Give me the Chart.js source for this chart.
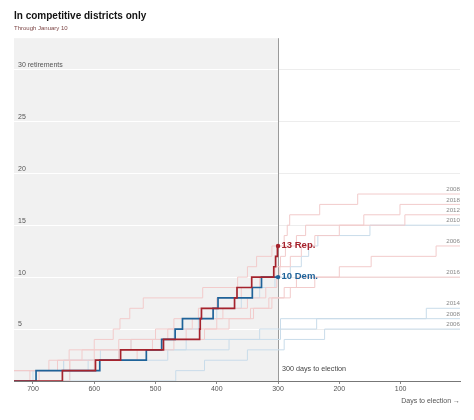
<!DOCTYPE html>
<html><head><meta charset="utf-8">
<script src="https://cdn.jsdelivr.net/npm/chart.js@4.4.0/dist/chart.umd.min.js"></script>
<style>html,body{margin:0;padding:0;background:#fff}#wrap{width:474px;height:420px}</style>
</head><body><div id="wrap"><canvas id="c" width="474" height="420"></canvas></div>
<script>
// ---- tick values ----
const xTicks = [700, 600, 500, 400, 300, 200, 100];
const yTicks = [5, 10, 15, 20, 25, 30];

// ---- current cycle (days to election, cumulative retirements) ----
const repDays   = [731, 652, 598, 557, 487, 428, 427, 425, 371, 367, 343, 307, 304, 301, 300];
const repCounts = [0, 1, 2, 3, 4, 5, 6, 7, 8, 9, 10, 11, 12, 13, 13];
const demDays   = [731, 695, 591, 515, 490, 468, 456, 406, 398, 342, 327, 300];
const demCounts = [0, 1, 2, 3, 4, 5, 6, 7, 8, 9, 10, 10];

// ---- past cycles ----
const r2008Days   = [731, 705, 674, 641, 600, 569, 558, 542, 520, 423, 366, 350, 335, 310, 290, 285, 281, 232, 170, 3];
const r2008Counts = [0, 1, 2, 3, 4, 5, 6, 7, 8, 9, 10, 11, 12, 13, 14, 15, 16, 17, 18, 18];
const r2018Days   = [731, 660, 620, 560, 500, 470, 430, 400, 360, 330, 305, 296, 288, 270, 255, 160, 101, 3];
const r2018Counts = [1, 2, 3, 4, 5, 6, 7, 8, 9, 10, 11, 12, 13, 14, 15, 16, 17, 17];
const r2012Days   = [731, 690, 640, 600, 540, 480, 440, 390, 350, 320, 302, 297, 280, 262, 240, 200, 93, 3];
const r2012Counts = [0, 1, 2, 3, 4, 5, 6, 7, 8, 9, 10, 11, 12, 13, 14, 15, 16, 16];
const d2010Days   = [731, 700, 650, 590, 540, 470, 430, 400, 360, 330, 305, 280, 262, 250, 235, 150, 3];
const d2010Counts = [0, 1, 2, 3, 4, 5, 6, 7, 8, 9, 10, 11, 12, 13, 14, 15, 15];
const r2006Days   = [731, 640, 560, 505, 450, 400, 345, 310, 280, 240, 200, 148, 42, 3];
const r2006Counts = [1, 2, 3, 4, 5, 6, 7, 8, 9, 10, 11, 12, 13, 13];
const r2016Days   = [731, 640, 600, 530, 470, 420, 380, 340, 315, 290, 270, 3];
const r2016Counts = [0, 1, 2, 3, 4, 5, 6, 7, 8, 9, 10, 10];
const d2014Days   = [731, 650, 560, 450, 330, 296, 58, 3];
const d2014Counts = [1, 2, 3, 4, 5, 6, 7, 7];
const d2008Days   = [731, 640, 610, 480, 380, 296, 237, 3];
const d2008Counts = [0, 1, 2, 3, 4, 5, 6, 6];
const d2006Days   = [731, 467, 420, 350, 290, 224, 3];
const d2006Counts = [0, 1, 2, 3, 4, 5, 5];

const REP = '#a5232d', DEM = '#1f6399';
const REP_FAINT = '#f2cbcb', DEM_FAINT = '#c9dcea';
const FONT = "'Liberation Sans', Arial, sans-serif";

const pastSeries = [
  {year: '2008', party: 'R', days: r2008Days, counts: r2008Counts},
  {year: '2018', party: 'R', days: r2018Days, counts: r2018Counts},
  {year: '2012', party: 'R', days: r2012Days, counts: r2012Counts},
  {year: '2010', party: 'D', days: d2010Days, counts: d2010Counts},
  {year: '2006', party: 'R', days: r2006Days, counts: r2006Counts},
  {year: '2016', party: 'R', days: r2016Days, counts: r2016Counts},
  {year: '2014', party: 'D', days: d2014Days, counts: d2014Counts},
  {year: '2008', party: 'D', days: d2008Days, counts: d2008Counts},
  {year: '2006', party: 'D', days: d2006Days, counts: d2006Counts}
];

const pts = (days, counts) => days.map((d, i) => ({x: d, y: counts[i]}));
const lastRadius = (n, r) => (ctx) => ctx.dataIndex === n - 1 ? r : 0;

const datasets = [
  {label: 'Rep.', data: pts(repDays, repCounts), borderColor: REP, backgroundColor: REP,
   borderWidth: 1.7, stepped: true, pointRadius: lastRadius(repDays.length, 2.2), pointBorderWidth: 0},
  {label: 'Dem.', data: pts(demDays, demCounts), borderColor: DEM, backgroundColor: DEM,
   borderWidth: 1.7, stepped: true, pointRadius: lastRadius(demDays.length, 2.2), pointBorderWidth: 0}
].concat(pastSeries.map(s => ({
  label: s.year, data: pts(s.days, s.counts),
  borderColor: s.party === 'R' ? REP_FAINT : DEM_FAINT,
  borderWidth: 1, stepped: true, pointRadius: 0
})));

const decor = {
  id: 'decor',
  beforeDraw(chart) {
    const {ctx, chartArea: a, scales: {x, y}} = chart;
    const x300 = x.getPixelForValue(300);
    ctx.save();
    ctx.fillStyle = '#f1f1f1';
    ctx.fillRect(a.left, a.top, x300 - a.left, a.bottom - a.top);
    ctx.lineWidth = 1;
    yTicks.forEach(v => {
      const py = Math.round(y.getPixelForValue(v)) + 0.5;
      ctx.strokeStyle = '#ffffff';
      ctx.beginPath(); ctx.moveTo(a.left, py); ctx.lineTo(x300, py); ctx.stroke();
      ctx.strokeStyle = '#ededed';
      ctx.beginPath(); ctx.moveTo(x300, py); ctx.lineTo(a.right, py); ctx.stroke();
    });
    const vx = Math.round(x300) + 0.5;
    ctx.strokeStyle = '#9a9a9a';
    ctx.beginPath(); ctx.moveTo(vx, a.top); ctx.lineTo(vx, a.bottom); ctx.stroke();
    ctx.restore();
  },
  afterDatasetsDraw(chart) {
    const {ctx, chartArea: a, scales: {x, y}} = chart;
    const x300 = x.getPixelForValue(300);
    ctx.save();
    ctx.textBaseline = 'middle';
    ctx.textAlign = 'right';
    ctx.font = '6.2px ' + FONT;
    ctx.fillStyle = '#888';
    pastSeries.forEach(s => {
      const v = s.counts[s.counts.length - 1];
      ctx.fillText(s.year, a.right, y.getPixelForValue(v) - 4.5);
    });
    ctx.font = '7px ' + FONT;
    ctx.fillStyle = '#555';
    ctx.fillText('Days to election \u2192', a.right, a.bottom + 20.5);
    ctx.textAlign = 'left';
    ctx.font = 'bold 9.5px ' + FONT;
    const rv = repCounts[repCounts.length - 1], dv = demCounts[demCounts.length - 1];
    ctx.fillStyle = REP;
    ctx.fillText(rv + ' Rep.', x300 + 3.5, y.getPixelForValue(rv) - 0.5);
    ctx.fillStyle = DEM;
    ctx.fillText(dv + ' Dem.', x300 + 3.5, y.getPixelForValue(dv) - 0.5);
    ctx.font = '7.2px ' + FONT;
    ctx.fillStyle = '#444';
    ctx.fillText('300 days to election', x300 + 4, a.bottom - 12);
    ctx.restore();
  }
};

Chart.defaults.font.family = FONT;
new Chart(document.getElementById('c'), {
  type: 'line',
  data: {datasets},
  options: {
    responsive: false, animation: false, devicePixelRatio: 1,
    layout: {padding: {left: 14, right: 14, top: 0, bottom: 25.6}},
    plugins: {
      legend: {display: false}, tooltip: {enabled: false},
      title: {display: true, text: 'In competitive districts only', align: 'start', color: '#121212',
              font: {size: 10, weight: 'bold'}, padding: {top: 10, bottom: 0}},
      subtitle: {display: true, text: 'Through January 10', align: 'start', color: '#7d4646',
                 font: {size: 6}, padding: {top: 3, bottom: 6}}
    },
    scales: {
      x: {
        type: 'linear', reverse: true, min: 3, max: 731,
        afterBuildTicks: s => { s.ticks = xTicks.map(v => ({value: v})); },
        grid: {display: true, drawOnChartArea: false, drawTicks: true, tickLength: 3, color: '#888'},
        border: {display: true, color: '#777', width: 1},
        ticks: {color: '#555', font: {size: 7}, padding: 1, maxRotation: 0, autoSkip: false}
      },
      y: {
        min: 0, max: 33,
        afterBuildTicks: s => { s.ticks = yTicks.map(v => ({value: v})); },
        afterFit: s => { s.width = 0; },
        grid: {display: false, drawTicks: false}, border: {display: false},
        ticks: {mirror: true, padding: 4, labelOffset: -4.5, color: '#555', font: {size: 7},
                callback: v => v === 30 ? '30 retirements' : String(v)}
      }
    }
  },
  plugins: [decor]
});
</script></body></html>
